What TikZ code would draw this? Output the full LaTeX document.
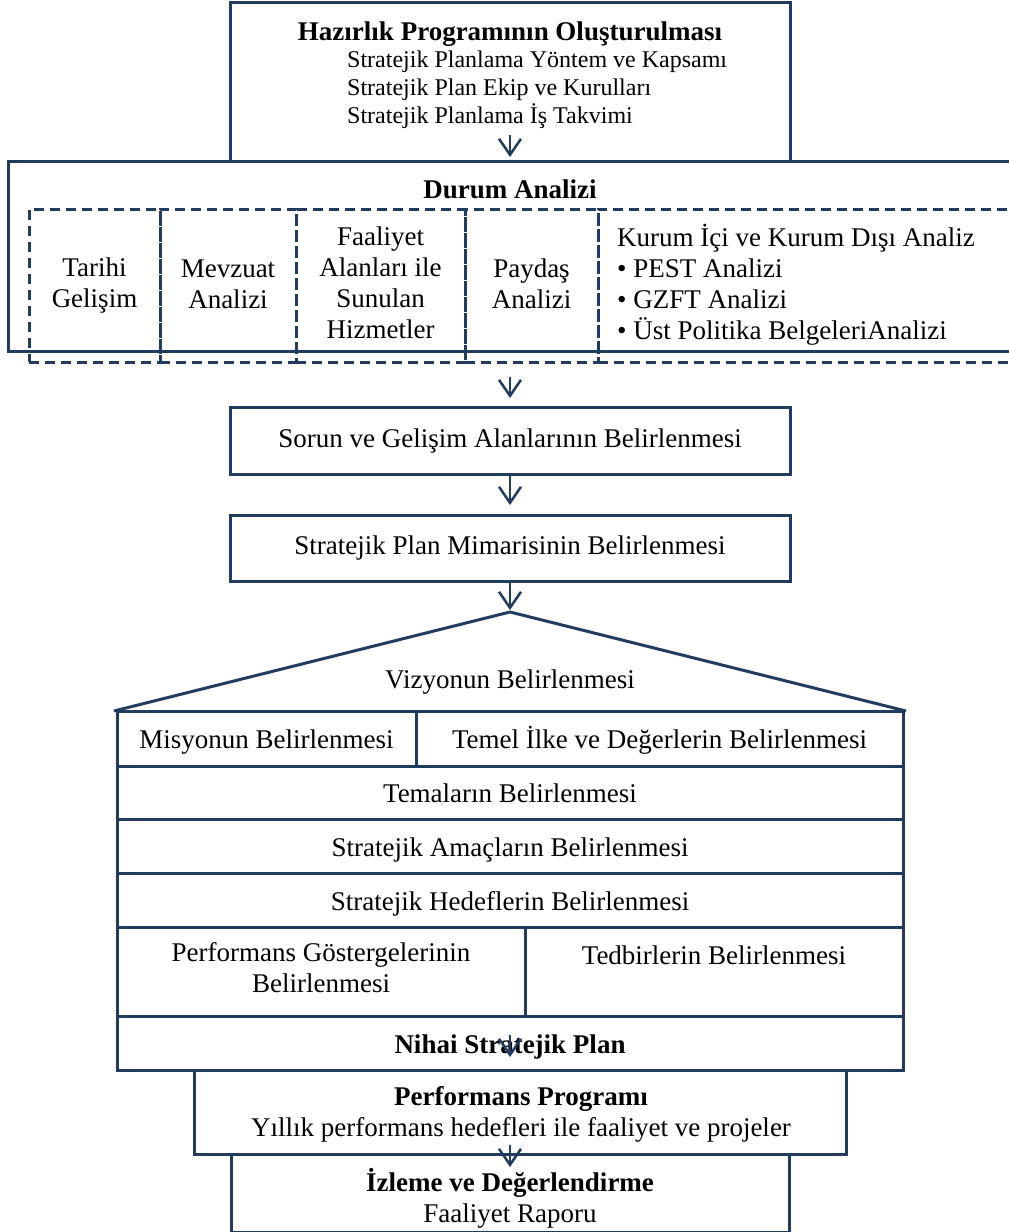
\documentclass[tikz,border=0pt]{standalone}
\usepackage{fontspec}
\setmainfont{Liberation Serif}
\usetikzlibrary{arrows.meta}
\definecolor{lnblue}{RGB}{34,60,95}
\tikzset{
  box/.style={draw=lnblue, line width=3pt, inner sep=0pt, align=center,
    font=\fontsize{27}{31}\selectfont},
  row/.style={box, text height=24pt, text depth=4pt},
  cell/.style={draw=lnblue, line width=3pt, dash pattern=on 10pt off 6pt,
    inner sep=0pt, align=center, font=\fontsize{27}{31}\selectfont},
  txt/.style={inner sep=0pt, align=center, font=\fontsize{27}{31}\selectfont},
  bold/.style={font=\fontsize{27}{31}\selectfont\bfseries},
  itemtxt/.style={inner sep=0pt, align=left, font=\fontsize{24}{28}\selectfont},
  arr/.style={draw=lnblue, line width=2.5pt, -{Straight Barb[length=16pt,width=22pt]}}
}
\begin{document}
\begin{tikzpicture}[x=1pt,y=-1pt]
  \fill[white] (0,0) rectangle (1009,1232);
  \clip (0,0) rectangle (1009,1232);
  \node[box, minimum width=560pt, minimum height=159pt] (hz) at (510,81.5) {};
  \node[txt, bold] (hzt) at (510,34) {Hazırlık Programının Oluşturulması};
  \node[itemtxt, anchor=west] (hzl) at (347,90)
    {Stratejik Planlama Yöntem ve Kapsamı\\Stratejik Plan Ekip ve Kurulları\\Stratejik Planlama İş Takvimi};
  \node[box, minimum width=1004pt, minimum height=190pt] (da) at (510,256) {};
  \node[txt, bold] (dat) at (510,189) {Durum Analizi};
  \node[cell, minimum width=131pt, minimum height=153pt] (c1) at (94.5,285.5) {};
  \node[cell, minimum width=136pt, minimum height=153pt] (c2) at (228,285.5) {};
  \node[cell, minimum width=169pt, minimum height=153pt] (c3) at (380.5,285.5) {};
  \node[cell, minimum width=133pt, minimum height=153pt] (c4) at (531.5,285.5) {};
  \node[cell, minimum width=432pt, minimum height=153pt] (c5) at (814,285.5) {};
  \node[txt] (c1t) at (94.5,285.5) {Tarihi\\Gelişim};
  \node[txt] (c2t) at (228,284) {Mevzuat\\Analizi};
  \node[txt] (c3t) at (380.5,283) {Faaliyet\\Alanları ile\\Sunulan\\Hizmetler};
  \node[txt] (c4t) at (531.5,284) {Paydaş\\Analizi};
  \node[txt, align=left, anchor=west] (c5t) at (617,285)
    {Kurum İçi ve Kurum Dışı Analiz\\\textbullet{} PEST Analizi\\\textbullet{} GZFT Analizi\\\textbullet{} Üst Politika BelgeleriAnalizi};
  \node[box, minimum width=560pt, minimum height=67pt] (sor) at (510,440.5) {Sorun ve Gelişim Alanlarının Belirlenmesi};
  \node[box, minimum width=560pt, minimum height=66pt] (mim) at (510,548) {Stratejik Plan Mimarisinin Belirlenmesi};
  \coordinate (tp) at (510,612);
  \draw[lnblue, line width=3pt, line join=round] (114,711) -- (tp) -- (906,711);
  \node[txt] (vz) at (510,682) {Vizyonun Belirlenmesi};
  \node[row, minimum width=299pt, minimum height=55pt] (ms) at (266.5,738.5) {Misyonun Belirlenmesi};
  \node[row, minimum width=487pt, minimum height=55pt] (tm) at (659.5,738.5) {Temel İlke ve Değerlerin Belirlenmesi};
  \node[row, minimum width=786pt, minimum height=53pt] (te) at (510,792.5) {Temaların Belirlenmesi};
  \node[row, minimum width=786pt, minimum height=54pt] (am) at (510,846) {Stratejik Amaçların Belirlenmesi};
  \node[row, minimum width=786pt, minimum height=54pt] (hd) at (510,900) {Stratejik Hedeflerin Belirlenmesi};
  \node[box, minimum width=408pt, minimum height=89pt] (pg) at (321,971.5) {};
  \node[txt] (pgt) at (321,967.5) {Performans Göstergelerinin\\Belirlenmesi};
  \node[box, minimum width=378pt, minimum height=89pt] (tb) at (714,971.5) {};
  \node[txt] (tbt) at (714,955) {Tedbirlerin Belirlenmesi};
  \node[row, minimum width=786pt, minimum height=54pt] (ni) at (510,1043) {\bfseries Nihai Stratejik Plan};
  \node[box, minimum width=652pt, minimum height=84pt] (pp) at (520,1112) {};
  \node[txt] (ppt) at (521,1114)
    {\bfseries Performans Programı\\Yıllık performans hedefleri ile faaliyet ve projeler};
  \node[box, minimum width=558pt, minimum height=78pt] (iz) at (510,1193) {};
  \node[txt] (izt) at (510,1198) {\bfseries İzleme ve Değerlendirme\\Faaliyet Raporu};
  \coordinate (a1) at (510,135);
  \draw[arr, shorten >=2.5pt] (a1) -- (da.north);
  \draw[arr, shorten <=13pt, shorten >=7.5pt] (c4.south -| sor.north) -- (sor.north);
  \draw[arr, shorten >=8.5pt] (sor.south) -- (mim.north);
  \draw[arr, shorten >=2pt] (mim.south) -- (tp);
  \draw[arr, shorten <=20.5pt, shorten >=11.5pt] (ni.north) -- (ni.north |- pp.north);
  \draw[arr, shorten <=33pt, shorten >=26pt] (ni.north |- pp.center) -- (iz.center);
\end{tikzpicture}
\end{document}
